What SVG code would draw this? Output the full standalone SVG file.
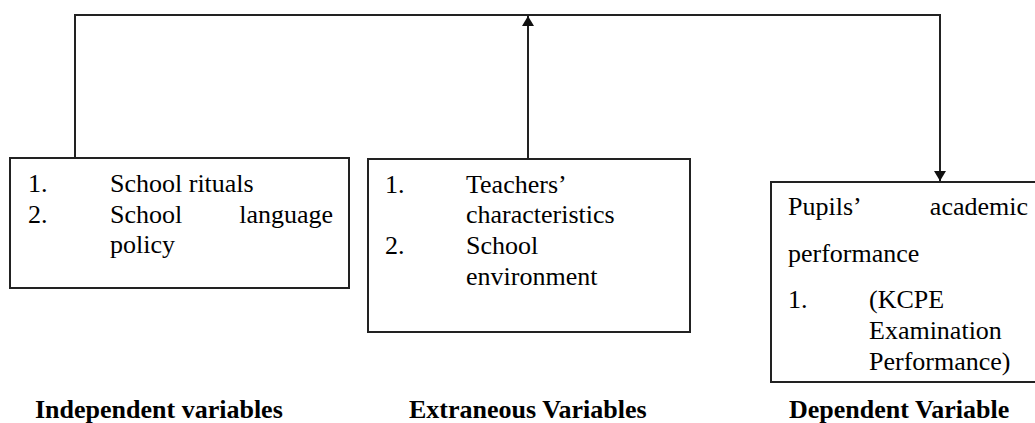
<svg xmlns="http://www.w3.org/2000/svg" width="1035" height="423" viewBox="0 0 1035 423">
<style>
.box{fill:#fff;stroke:#222;stroke-width:2}
.ln{fill:none;stroke:#222;stroke-width:2}
.t{font-family:"Liberation Serif","Times New Roman",serif;font-size:26px;fill:#000}
.b{font-family:"Liberation Serif","Times New Roman",serif;font-size:26px;font-weight:bold;fill:#000}
</style>
<defs>
<marker id="ah" viewBox="0 0 10 12" refX="10" refY="6" markerWidth="10" markerHeight="12" markerUnits="userSpaceOnUse" orient="auto">
<path d="M0,0 L10,6 L0,12 Z" fill="#111"/>
</marker>
</defs>
<rect width="1035" height="423" fill="#fff"/>
<g id="connectors">
<polyline class="ln" points="75,158 75,15 940,15 940,181" marker-end="url(#ah)"/>
<line class="ln" x1="528" y1="159" x2="528" y2="16" marker-end="url(#ah)"/>
</g>
<g id="independent">
<rect class="box" x="10" y="158" width="339" height="130"/>
<text class="t" x="28" y="192">1.</text>
<text class="t" x="110" y="192">School rituals</text>
<text class="t" x="28" y="223">2.</text>
<text class="t" x="110" y="223">School</text>
<text class="t" x="333" y="223" text-anchor="end">language</text>
<text class="t" x="110" y="253">policy</text>
</g>
<g id="extraneous">
<rect class="box" x="368" y="159" width="322" height="173"/>
<text class="t" x="385" y="193">1.</text>
<text class="t" x="466" y="193">Teachers’</text>
<text class="t" x="466" y="223">characteristics</text>
<text class="t" x="385" y="254">2.</text>
<text class="t" x="466" y="254">School</text>
<text class="t" x="466" y="285">environment</text>
</g>
<g id="dependent">
<rect class="box" x="771" y="182" width="270" height="200"/>
<text class="t" x="788" y="215">Pupils’</text>
<text class="t" x="1028" y="215" text-anchor="end">academic</text>
<text class="t" x="788" y="262">performance</text>
<text class="t" x="788" y="308">1.</text>
<text class="t" x="869" y="308">(KCPE</text>
<text class="t" x="869" y="339">Examination</text>
<text class="t" x="869" y="370">Performance)</text>
</g>
<g id="labels">
<text class="b" x="35" y="418">Independent variables</text>
<text class="b" x="409" y="418">Extraneous Variables</text>
<text class="b" x="789" y="418">Dependent Variable</text>
</g>
</svg>
